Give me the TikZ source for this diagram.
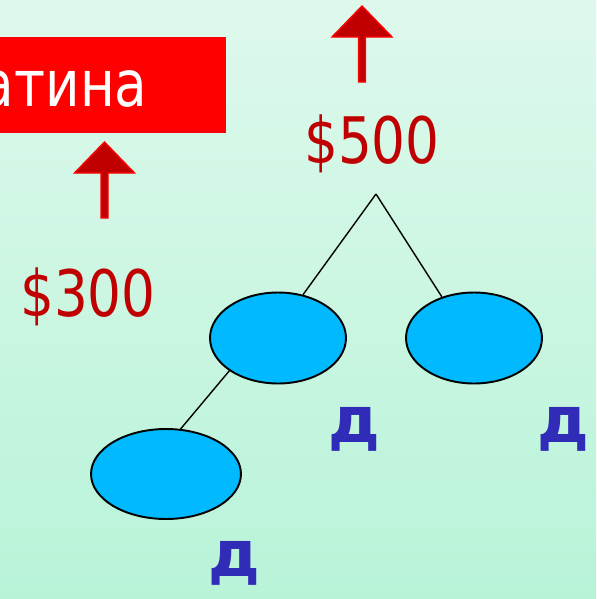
\documentclass[tikz,border=0pt]{standalone}
\usepackage{fontspec}
\setmainfont{DejaVu Sans}
\newfontfamily\slimfont[FakeStretch=0.83]{DejaVu Sans}
\usepackage{tikz}
\usetikzlibrary{shapes.geometric}

\definecolor{bgtop}{RGB}{222,249,236}
\definecolor{bgbottom}{RGB}{184,243,216}
\definecolor{leafblue}{RGB}{0,185,255}
\definecolor{pricered}{RGB}{192,0,0}
\definecolor{labelblue}{RGB}{48,44,184}

\begin{document}
\begin{tikzpicture}[
            x = 0.02cm, y = -0.02cm, % pixel grid, y downwards
            leaf/.style = {shape=ellipse, draw=black, line width=1.1pt, fill=leafblue,
                           minimum width=2.72cm, minimum height=1.82cm},
            price/.style = {text=pricered, inner sep=0pt, font=\slimfont\fontsize{36.5}{40}\selectfont},
            dlabel/.style = {text=labelblue, inner sep=0pt, font=\bfseries\fontsize{36.5}{40}\selectfont},
            redarr/.style = {fill=pricered, draw=red, line width=0.8pt},
            branch/.style = {line width=0.8pt},
            semithick
        ]
\useasboundingbox (0,0) rectangle (596,599);
\clip (0,0) rectangle (596,599);
\shade[top color=bgtop, bottom color=bgbottom] (0,0) rectangle (596,599);

% title box, cut off at the left
\node[fill=red, inner sep=0pt, minimum width=4.52cm, minimum height=1.92cm] (box) at (113,85) {};
\node[text=white, inner sep=0pt, anchor=east, font=\slimfont\fontsize{36.5}{40}\selectfont] (title) at (148,89) {атина};

% up arrows
\foreach \ax/\ay in {104.5/218, 362/82}
  \filldraw[redarr, shift={(\ax,\ay)}] (-3.5,0) -- (-3.5,-45) -- (-30,-45) -- (0,-76)
        -- (30,-45) -- (3.5,-45) -- (3.5,0) -- cycle;

\node[price] (p300) at (88,297) {\$300};
\node[price] (p500) at (372,144) {\$500};
\coordinate (apex) at (376,194);

\node[leaf] (L) at (278,338) {};
\node[leaf] (R) at (474,338) {};
\node[leaf, minimum width=3cm, minimum height=1.8cm] (LL) at (166,474) {};

\node[dlabel] (dL) at (354,429) {д};
\node[dlabel] (dR) at (563,429) {д};
\node[dlabel] (dLL) at (234,563) {д};

\draw[branch] (apex) -- (L.60);
\draw[branch] (apex) -- (R.128);
\draw[branch] (L.214) -- (LL.72);
\end{tikzpicture}
\end{document}
